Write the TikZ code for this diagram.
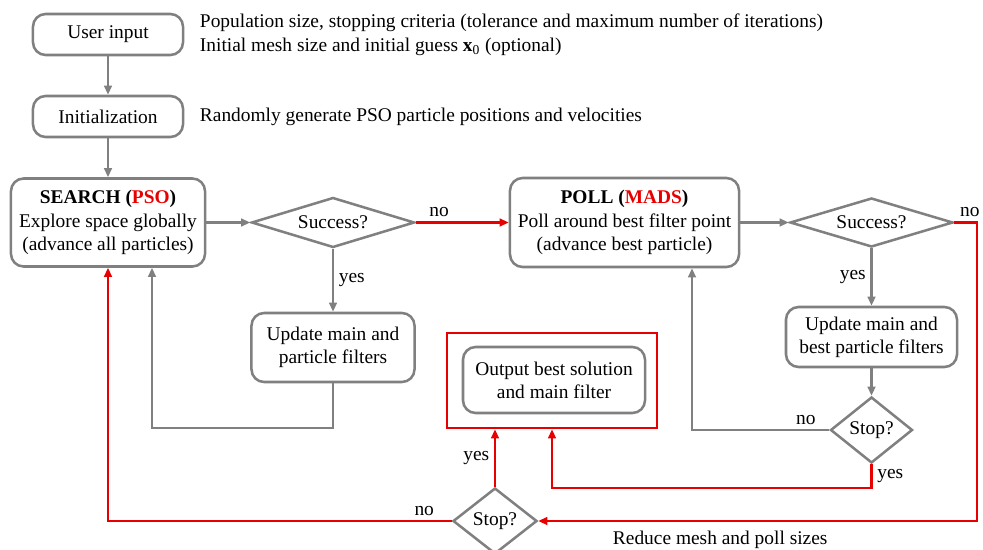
\documentclass[tikz,border=0pt]{standalone}
\usepackage{fontspec}
\setmainfont{Liberation Serif}
\usetikzlibrary{shapes.geometric,arrows.meta}
\definecolor{boxgray}{RGB}{128,128,128}
\definecolor{flowred}{RGB}{232,0,0}

\begin{document}
\begin{tikzpicture}[x=0.025cm,y=-0.025cm,
    font=\fontsize{13.8}{16.5}\selectfont,
    block/.style={draw=boxgray,line width=1.8pt,rounded corners=9pt,align=center,inner sep=0pt},
    decision/.style={draw=boxgray,line width=1.8pt,diamond,inner sep=0pt,aspect=#1},
    line/.style={draw=boxgray,line width=1.6pt,-{Triangle[length=6.5pt,width=5.5pt]}},
    redline/.style={draw=flowred,line width=1.6pt,-{Triangle[length=6.5pt,width=5.5pt]}}]

    \useasboundingbox (0,0) rectangle (983,550);

    \node[block,minimum width=3.75cm,minimum height=1.025cm] (user) at (108,34.5) {User input};
    \node[block,minimum width=3.75cm,minimum height=1.025cm] (init) at (108,116.5) {Initialization};
    \node[anchor=west] (popinfo) at (195,23) {Population size, stopping criteria (tolerance and maximum number of iterations)};
    \node[anchor=west] (meshinfo) at (195,47) {Initial mesh size and initial guess \textbf{x}\textsubscript{0} (optional)};
    \node[anchor=west] (initinfo) at (195,117) {Randomly generate PSO particle positions and velocities};

    \node[block,minimum width=4.85cm,minimum height=2.2cm] (search) at (108,222.5) {\textbf{SEARCH (\textcolor{flowred}{PSO})}\\Explore space globally\\(advance all particles)};
    \node[decision=3,minimum width=4.075cm,minimum height=1.25cm] (succ1) at (333,222.5) {Success?};
    \node[block,minimum width=4.075cm,minimum height=1.725cm] (upd1) at (333,347.5) {Update main and\\particle filters};

    \node[block,minimum width=5.725cm,minimum height=2.225cm] (poll) at (624.5,222.5) {\textbf{POLL (\textcolor{flowred}{MADS})}\\Poll around best filter point\\(advance best particle)};
    \node[decision=3,minimum width=4.075cm,minimum height=1.225cm] (succ2) at (871.5,222.5) {Success?};
    \node[block,minimum width=4.275cm,minimum height=1.5cm] (upd2) at (871.5,337) {Update main and\\best particle filters};
    \node[decision=1.2,minimum width=2.05cm,minimum height=1.65cm] (stop2) at (871.5,430) {Stop?};

    \node[draw=flowred,line width=1.8pt,minimum width=5.25cm,minimum height=2.375cm] (frame) at (552,380.5) {};
    \node[block,minimum width=4.55cm,minimum height=1.65cm] (out) at (554,380) {Output best solution\\and main filter};
    \node[decision=1.2,minimum width=2.1cm,minimum height=1.65cm] (stop1) at (495,521) {Stop?};
    \node[anchor=west] (reduce) at (608,540) {Reduce mesh and poll sizes};

    \coordinate (loopa) at (152,428);
    \coordinate (loopb) at (692,430);
    \coordinate (ret) at (552,488);
    \coordinate (rt) at (977,521);

    \draw[line] (user) -- (init);
    \draw[line] (init) -- (search);
    \draw[line] (search) -- (succ1);
    \draw[redline] (succ1) -- node[pos=0.25,above] {no} (poll);
    \draw[line] (succ1) -- node[right] {yes} (upd1);
    \draw[line] (upd1.south) |- (loopa) -- (loopa |- search.south);
    \draw[line] (poll) -- (succ2);
    \draw[redline] (succ2.east) -| node[at start,above right] {no} (rt) -- (stop1.east);
    \draw[line] (succ2) -- node[left] {yes} (upd2);
    \draw[line] (upd2) -- (stop2);
    \draw[line] (stop2.west) -- node[pos=0.17,above] {no} (loopb) -- (loopb |- poll.south);
    \draw[redline] (stop2.south) |- node[pos=0.25,right] {yes} (ret) -- (ret |- frame.south);
    \draw[redline] (stop1) -- node[left] {yes} (stop1 |- frame.south);
    \draw[redline] (stop1.west) -| node[pos=0.04,above] {no} (search.south);
\end{tikzpicture}
\end{document}
